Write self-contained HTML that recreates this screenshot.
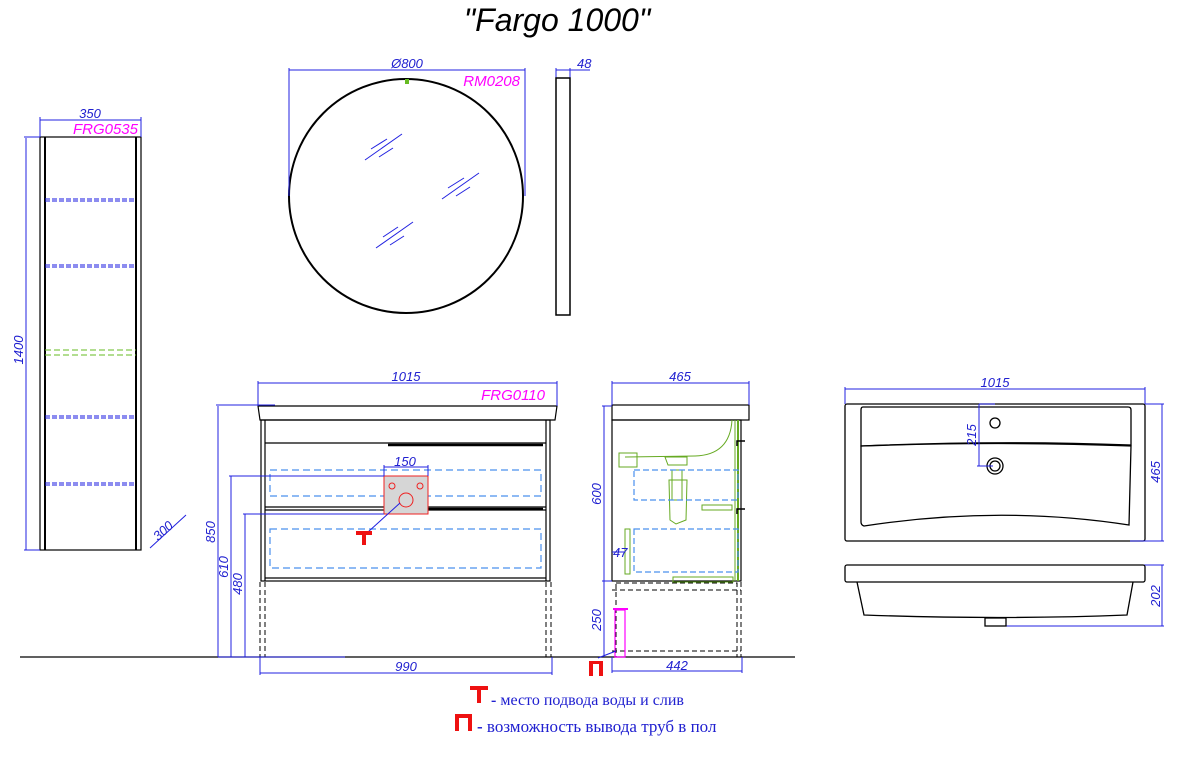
<!DOCTYPE html>
<html><head><meta charset="utf-8"><style>
html,body{margin:0;padding:0;background:#fff;}
svg{display:block;}
.d{font-family:"Liberation Sans",sans-serif;font-style:italic;fill:#2020d0;font-size:13px;}
.m{font-family:"Liberation Sans",sans-serif;font-style:italic;fill:#ff00ff;font-size:15px;}
</style></head><body>
<svg width="1202" height="776" viewBox="0 0 1202 776" xmlns="http://www.w3.org/2000/svg">
<text x="557" y="31" text-anchor="middle" font-family="Liberation Sans,sans-serif" font-style="italic" font-size="32" fill="#000">"Fargo 1000"</text>

<g stroke="#000" fill="none">
<rect x="40" y="137" width="101" height="413" stroke-width="1.2"/>
<line x1="45" y1="137" x2="45" y2="550" stroke-width="2"/>
<line x1="136" y1="137" x2="136" y2="550" stroke-width="2"/>
</g>
<g stroke="#1a1ae0" stroke-width="1" stroke-dasharray="5,2">
<line x1="45" y1="199" x2="136" y2="199"/><line x1="45" y1="201" x2="136" y2="201"/>
<line x1="45" y1="265" x2="136" y2="265"/><line x1="45" y1="267" x2="136" y2="267"/>
<line x1="45" y1="416" x2="136" y2="416"/><line x1="45" y1="418" x2="136" y2="418"/>
<line x1="45" y1="483" x2="136" y2="483"/><line x1="45" y1="485" x2="136" y2="485"/>
</g>
<g stroke="#66bb22" stroke-width="1" stroke-dasharray="6,3">
<line x1="45" y1="350" x2="136" y2="350"/><line x1="45" y1="355" x2="136" y2="355"/>
</g>
<g stroke="#2020e0" stroke-width="1" fill="none">
<line x1="40" y1="120" x2="141" y2="120"/><line x1="40" y1="117" x2="40" y2="137"/><line x1="141" y1="117" x2="141" y2="137"/>
<line x1="26" y1="138" x2="26" y2="550"/><line x1="24" y1="137" x2="40" y2="137"/><line x1="24" y1="550" x2="40" y2="550"/>
<line x1="150" y1="548" x2="186" y2="515"/>
</g>
<text class="d" x="90" y="118" text-anchor="middle">350</text>
<text class="m" x="138" y="134" text-anchor="end">FRG0535</text>
<text class="d" x="0" y="0" transform="translate(23,350) rotate(-90)" text-anchor="middle">1400</text>
<text class="d" x="0" y="0" transform="translate(166,534) rotate(-42)" text-anchor="middle" font-size="14">300</text>

<circle cx="406" cy="196" r="117" fill="none" stroke="#000" stroke-width="2"/>
<rect x="405" y="79" width="4" height="5" fill="#66bb22"/>
<g stroke="#2020e0" stroke-width="1" fill="none">
<line x1="289" y1="70" x2="525" y2="70"/><line x1="289" y1="68" x2="289" y2="196"/><line x1="525" y1="68" x2="525" y2="196"/>
<line x1="371" y1="149" x2="387" y2="139"/><line x1="365" y1="160" x2="402" y2="134"/><line x1="379" y1="157" x2="393" y2="148"/>
<line x1="448" y1="188" x2="464" y2="178"/><line x1="442" y1="199" x2="479" y2="173"/><line x1="456" y1="196" x2="470" y2="187"/>
<line x1="383" y1="237" x2="398" y2="227"/><line x1="376" y1="248" x2="413" y2="222"/><line x1="390" y1="245" x2="404" y2="236"/>
<line x1="556" y1="70" x2="590" y2="70"/><line x1="556" y1="68" x2="556" y2="78"/><line x1="570" y1="68" x2="570" y2="78"/>
</g>
<rect x="556" y="78" width="14" height="237" fill="none" stroke="#000" stroke-width="1.5"/>
<text class="d" x="407" y="68" text-anchor="middle">Ø800</text>
<text class="m" x="520" y="86" text-anchor="end">RM0208</text>
<text class="d" x="577" y="68">48</text>

<line x1="20" y1="657" x2="795" y2="657" stroke="#000" stroke-width="1.2"/>

<g stroke="#000" fill="none" stroke-width="1.2">
<path d="M258 406 L557 406 L555 420 L260 420 Z"/>
<rect x="261" y="420" width="289" height="161"/>
<line x1="265" y1="420" x2="265" y2="581"/><line x1="546" y1="420" x2="546" y2="581"/>
<line x1="265" y1="443" x2="546" y2="443"/>
<line x1="265" y1="507" x2="546" y2="507"/><line x1="265" y1="510" x2="546" y2="510"/>
<line x1="265" y1="578" x2="546" y2="578"/>
<line x1="388" y1="445" x2="543" y2="445" stroke-width="2.5"/>
<line x1="388" y1="509" x2="543" y2="509" stroke-width="2.5"/>
</g>
<g stroke="#000" fill="none" stroke-dasharray="5,3" stroke-width="1">
<line x1="260" y1="582" x2="260" y2="657"/><line x1="265" y1="582" x2="265" y2="657"/>
<line x1="546" y1="582" x2="546" y2="657"/><line x1="551" y1="582" x2="551" y2="657"/>
</g>
<g stroke="#4a90ee" fill="none" stroke-dasharray="7,4" stroke-width="1.2">
<rect x="270" y="470" width="271" height="26"/>
<rect x="270" y="529" width="271" height="39"/>
</g>
<rect x="384" y="476" width="44" height="38" fill="#d6d6d6" stroke="#ee2222" stroke-width="1"/>
<g stroke="#ee2222" fill="none"><circle cx="392" cy="486" r="3"/><circle cx="420" cy="486" r="3"/><circle cx="406" cy="500" r="7"/></g>
<g stroke="#2020e0" stroke-width="1" fill="none">
<line x1="258" y1="383" x2="557" y2="383"/><line x1="258" y1="381" x2="258" y2="406"/><line x1="557" y1="381" x2="557" y2="406"/>
<line x1="384" y1="467" x2="428" y2="467"/><line x1="384" y1="465" x2="384" y2="476"/><line x1="428" y1="465" x2="428" y2="476"/>
<line x1="218" y1="406" x2="218" y2="657"/><line x1="216" y1="405" x2="275" y2="405"/>
<line x1="231" y1="476" x2="231" y2="657"/><line x1="229" y1="476" x2="384" y2="476"/>
<line x1="245" y1="514" x2="245" y2="657"/><line x1="243" y1="514" x2="384" y2="514"/>
<line x1="218" y1="657" x2="345" y2="657"/>
<line x1="260" y1="673" x2="552" y2="673"/><line x1="260" y1="657" x2="260" y2="675"/><line x1="552" y1="657" x2="552" y2="675"/>
<line x1="368" y1="532" x2="400" y2="503"/>
</g>
<text class="d" x="406" y="381" text-anchor="middle">1015</text>
<text class="m" x="545" y="400" text-anchor="end">FRG0110</text>
<text class="d" x="405" y="466" text-anchor="middle">150</text>
<text class="d" transform="translate(215,532) rotate(-90)" text-anchor="middle">850</text>
<text class="d" transform="translate(228,567) rotate(-90)" text-anchor="middle">610</text>
<text class="d" transform="translate(242,584) rotate(-90)" text-anchor="middle">480</text>
<text class="d" x="406" y="671" text-anchor="middle">990</text>
<rect x="356" y="531" width="16" height="4" fill="#ee1111"/>
<rect x="362" y="531" width="4" height="14" fill="#ee1111"/>

<g stroke="#000" fill="none" stroke-width="1.2">
<rect x="612" y="405" width="137" height="15"/>
<rect x="612" y="420" width="129" height="161"/>
</g>
<g stroke="#000" fill="none" stroke-dasharray="5,3">
<rect x="616" y="583" width="121" height="74"/>
<line x1="612" y1="590" x2="741" y2="590"/>
<line x1="612" y1="651" x2="741" y2="651"/>
</g>
<line x1="741" y1="582" x2="741" y2="657" stroke="#000" stroke-dasharray="5,3"/>
<g stroke="#66aa22" fill="none" stroke-width="1">
<line x1="735" y1="420" x2="735" y2="581"/><line x1="738" y1="420" x2="738" y2="581" stroke-width="2"/>
<path d="M732 420 Q730 455 695 456 L625 457"/>
<rect x="619" y="453" width="18" height="14"/>
<path d="M665 457 L687 457 L687 465 L668 465 Z"/>
<rect x="672" y="470" width="10" height="30"/>
<path d="M669 480 L687 480 L686 520 L676 524 L670 520 Z"/>
<rect x="702" y="505" width="30" height="5"/>
<rect x="625" y="529" width="5" height="45"/>
<rect x="673" y="577" width="60" height="5"/>
</g>
<g stroke="#4a90ee" fill="none" stroke-dasharray="6,3" stroke-width="1.2">
<rect x="634" y="470" width="104" height="30"/>
<rect x="634" y="529" width="104" height="43"/>
</g>
<path d="M737 446 L737 441 L745 441 M737 514 L737 509 L745 509" stroke="#000" fill="none" stroke-width="1.5"/>
<rect x="615" y="610" width="10" height="47" fill="none" stroke="#ff00ff" stroke-width="1.2"/>
<line x1="613" y1="609" x2="628" y2="609" stroke="#ff00ff" stroke-width="2"/>
<g stroke="#2020e0" stroke-width="1" fill="none">
<line x1="612" y1="383" x2="749" y2="383"/><line x1="612" y1="381" x2="612" y2="405"/><line x1="749" y1="381" x2="749" y2="405"/>
<line x1="604" y1="406" x2="604" y2="581"/><line x1="602" y1="406" x2="612" y2="406"/>
<line x1="604" y1="581" x2="604" y2="657"/><line x1="602" y1="581" x2="612" y2="581"/>
<line x1="612" y1="671" x2="742" y2="671"/><line x1="612" y1="657" x2="612" y2="673"/><line x1="742" y1="657" x2="742" y2="673"/>
<line x1="598" y1="658" x2="616" y2="651"/>
<line x1="612" y1="552" x2="625" y2="552"/>
</g>
<text class="d" x="680" y="381" text-anchor="middle">465</text>
<text class="d" transform="translate(601,494) rotate(-90)" text-anchor="middle">600</text>
<text class="d" transform="translate(601,620) rotate(-90)" text-anchor="middle">250</text>
<text class="d" x="677" y="670" text-anchor="middle">442</text>
<text class="d" x="613" y="557">47</text>
<rect x="589" y="661" width="14" height="3" fill="#ee1111"/>
<rect x="589" y="661" width="4" height="15" fill="#ee1111"/>
<rect x="599" y="661" width="4" height="15" fill="#ee1111"/>

<g stroke="#000" fill="none" stroke-width="1.3">
<rect x="845" y="404" width="300" height="137" rx="2"/>
<path d="M863 407 H1128 Q1131 407 1131 410 V445 Q1000 440 861 446 V410 Q861 407 863 407 Z"/>
<path d="M861 446 Q1000 441 1131 446 L1129 525 Q1000 505 864 526 Q861 525 861 522 Z"/>
<circle cx="995" cy="423" r="5"/>
<circle cx="995" cy="466" r="8"/><circle cx="995" cy="466" r="5"/>
</g>
<g stroke="#2020e0" stroke-width="1" fill="none">
<line x1="845" y1="389" x2="1145" y2="389"/><line x1="845" y1="387" x2="845" y2="404"/><line x1="1145" y1="387" x2="1145" y2="404"/>
<line x1="979" y1="404" x2="979" y2="466"/><line x1="979" y1="404" x2="995" y2="404"/><line x1="977" y1="466" x2="993" y2="466"/>
<line x1="1162" y1="404" x2="1162" y2="541"/><line x1="1145" y1="404" x2="1164" y2="404"/><line x1="1130" y1="541" x2="1164" y2="541"/>
<line x1="1162" y1="565" x2="1162" y2="626"/><line x1="1050" y1="565" x2="1164" y2="565"/><line x1="1006" y1="626" x2="1164" y2="626"/>
</g>
<text class="d" x="995" y="387" text-anchor="middle">1015</text>
<text class="d" transform="translate(976,435) rotate(-90)" text-anchor="middle">215</text>
<text class="d" transform="translate(1160,472) rotate(-90)" text-anchor="middle">465</text>
<text class="d" transform="translate(1160,596) rotate(-90)" text-anchor="middle">202</text>
<g stroke="#000" fill="none" stroke-width="1.3">
<rect x="845" y="565" width="300" height="17" rx="2"/>
<path d="M857 582 L864 615 Q1000 620 1127 615 L1133 582"/>
<rect x="985" y="618" width="21" height="8"/>
</g>

<rect x="470" y="686" width="18" height="4" fill="#ee1111"/>
<rect x="477" y="686" width="4" height="17" fill="#ee1111"/>
<text x="491" y="705" font-family="Liberation Serif,serif" font-size="16" fill="#2020d0"><tspan font-weight="bold">-</tspan> место подвода воды и слив</text>
<rect x="455" y="714" width="17" height="4" fill="#ee1111"/>
<rect x="455" y="714" width="4" height="17" fill="#ee1111"/>
<rect x="468" y="714" width="4" height="17" fill="#ee1111"/>
<text x="477" y="732" font-family="Liberation Serif,serif" font-size="17" fill="#2020d0"><tspan font-weight="bold">-</tspan> возможность вывода труб в пол</text>
</svg>
</body></html>
